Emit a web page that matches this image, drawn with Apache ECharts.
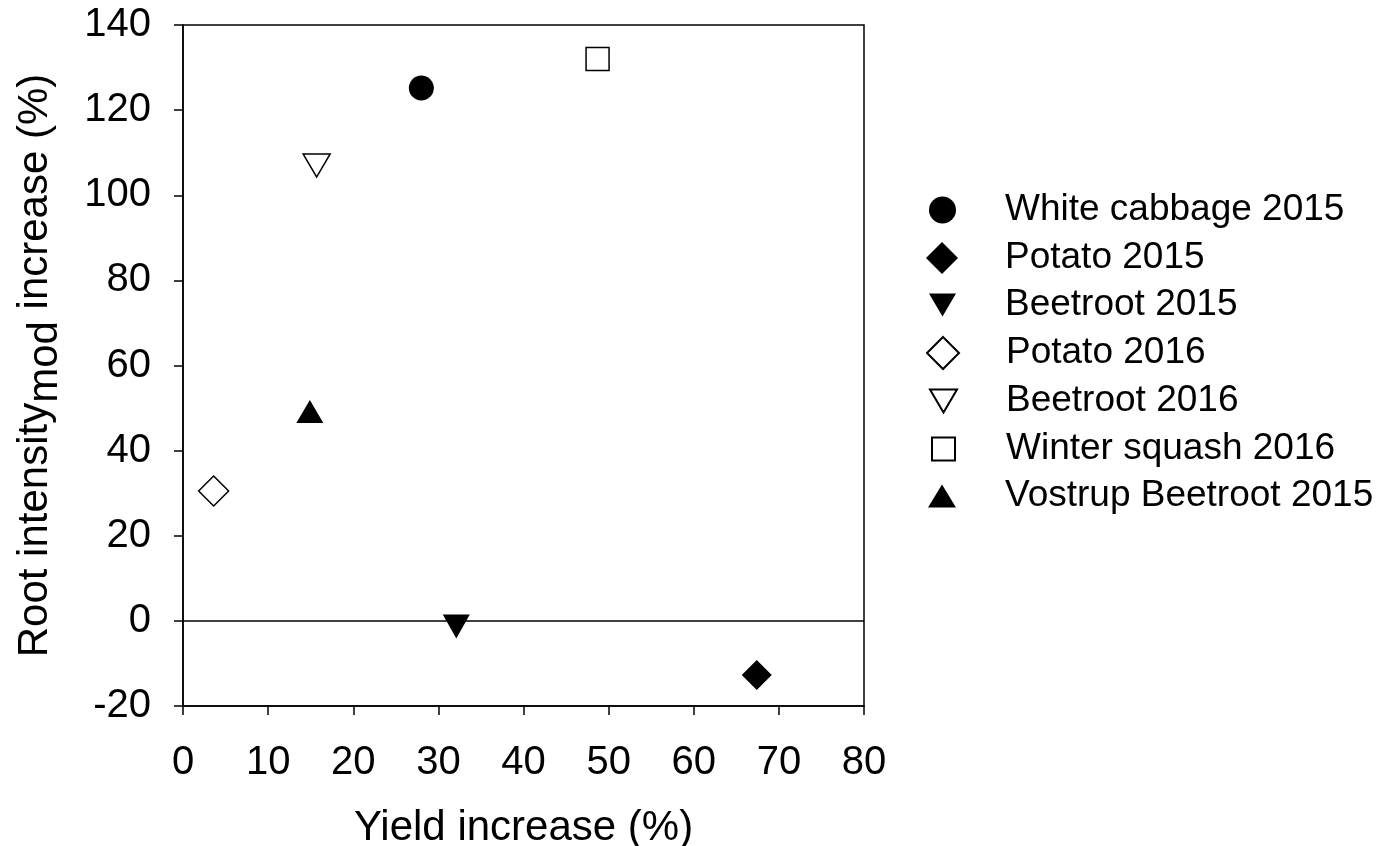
<!DOCTYPE html>
<html>
<head>
<meta charset="utf-8">
<script src="https://cdn.jsdelivr.net/npm/echarts@6/dist/echarts.min.js"></script>
<style>html,body{margin:0;padding:0;background:#fff}#c{width:1381px;height:846px}</style>
</head>
<body>
<div id="c"></div>
<script>
const seriesNames = ['White cabbage 2015','Potato 2015','Beetroot 2015','Potato 2016','Beetroot 2016','Winter squash 2016','Vostrup Beetroot 2015'];
const yieldIncrease = [28.0, 67.4, 32.1, 3.6, 15.7, 48.7, 14.9];
const rootIncrease = [125.2, -12.7, -1.3, 30.5, 107.0, 132.0, 49.2];
const xTicks = [0,10,20,30,40,50,60,70,80];
const yTicks = [-20,0,20,40,60,80,100,120,140];

// styles
const DOWN_TRI = 'path://M0,0L27,0L13.5,23Z';
const symbols = ['circle','diamond',DOWN_TRI,'diamond',DOWN_TRI,'rect','triangle'];
const filled = [true,true,true,false,false,false,true];
const sizes = [[25,25],[30,30],[27,24],[30,30],[27,23],[23,23],[27,23]];
const legendSizes = [[27,27],[32,32],[27,23],[32,32],[27,23],[23,23],[28,23]];

const FONT = '"Liberation Sans", Arial, sans-serif';
const series = seriesNames.map((n,i)=>({
  name:n, type:'scatter',
  data:[[yieldIncrease[i], rootIncrease[i]]],
  symbol:symbols[i], symbolSize:sizes[i],
  itemStyle:{color: filled[i] ? '#000' : '#fff', borderColor:'#000', borderWidth: filled[i]?0:1.5, opacity:1},
  emphasis:{disabled:true}
}));
series[0].markLine = {silent:true, symbol:'none', label:{show:false},
  lineStyle:{color:'#000', width:1.5, type:'solid'}, data:[{yAxis:0}]};

// one legend per row so each icon can have its own size
const legendCenterX = 942, legendTextX = 1005, legendRow0 = 210, legendRowStep = 47.7, legendLineH = 40;
const legends = seriesNames.map((n,i)=>{
  const w = legendSizes[i][0], h = legendSizes[i][1];
  return {
    orient:'vertical', left: Math.round(legendCenterX - w/2), top: Math.round(legendRow0 + i*legendRowStep - legendLineH/2),
    itemWidth:w, itemHeight:h, selectedMode:false, padding:0,
    textStyle:{color:'#000', fontSize:37, fontFamily:FONT, lineHeight:legendLineH,
      padding:[0,0,0, legendTextX - (Math.round(legendCenterX - w/2) + w + 5)]},
    data:[{name:n, icon:symbols[i]}]
  };
});

const chart = echarts.init(document.getElementById('c'));
chart.setOption({
  animation:false,
  backgroundColor:'#fff',
  grid:{left:183, top:25, right:517, bottom:140, outerBoundsMode:'none', containLabel:false,
    show:true, borderColor:'#000', borderWidth:1.5, backgroundColor:'transparent'},
  xAxis:{type:'value', min:xTicks[0], max:xTicks[xTicks.length-1], interval:10,
    axisLine:{onZero:false, lineStyle:{color:'#000', width:1.5}},
    axisTick:{show:true, inside:false, length:9, lineStyle:{color:'#000', width:1.5}},
    splitLine:{show:false},
    axisLabel:{color:'#000', fontSize:40, fontFamily:FONT, margin:37},
    name:'Yield increase (%)', nameLocation:'middle', nameGap:101,
    nameTextStyle:{color:'#000', fontSize:42, fontFamily:FONT}
  },
  yAxis:{type:'value', min:yTicks[0], max:yTicks[yTicks.length-1], interval:20,
    axisLine:{onZero:false, lineStyle:{color:'#000', width:1.5}},
    axisTick:{show:true, inside:false, length:9, lineStyle:{color:'#000', width:1.5}},
    splitLine:{show:false},
    axisLabel:{color:'#000', fontSize:40, fontFamily:FONT, margin:32, padding:[5,0,0,0]},
    name:'{a|Root intensity}{b|mod}{a| increase (%)}', nameLocation:'middle', nameGap:117, nameRotate:90,
    nameTextStyle:{color:'#000', fontSize:42, fontFamily:FONT,
      rich:{a:{fontSize:42, fontFamily:FONT, color:'#000', padding:[0,0,10,0]},
            b:{fontSize:42, fontFamily:FONT, color:'#000', padding:[10,0,0,0]}}}
  },
  legend:legends,
  series:series
});
</script>
</body>
</html>
